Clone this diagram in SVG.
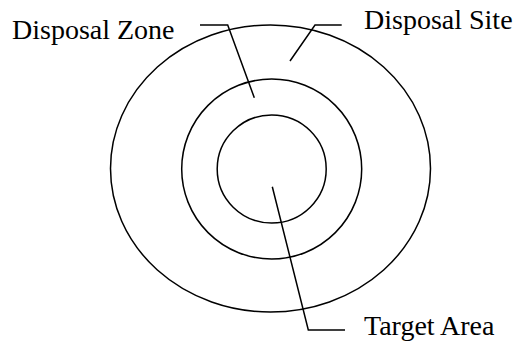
<svg xmlns="http://www.w3.org/2000/svg" width="521" height="341" viewBox="0 0 521 341">
<rect width="521" height="341" fill="#fff"/>
<g fill="none" stroke="#000" stroke-width="1.5">
<g id="disposal-site">
<ellipse cx="270.5" cy="168.5" rx="160" ry="143.5"/>
</g>
<g id="disposal-zone">
<ellipse cx="271.7" cy="169" rx="90" ry="90"/>
</g>
<g id="target-area">
<ellipse cx="271.7" cy="169" rx="54.5" ry="54"/>
</g>
<g id="connectors">
<polyline points="200,25 227.7,25 254.3,97.7"/>
<polyline points="290,61 315,25 341.7,25"/>
<polyline points="272.3,186.7 308.3,330 345,330"/>
</g>
</g>
<text x="12" y="39" font-family="Times New Roman" font-size="28" style="font-family:'Liberation Serif','Times New Roman',serif">Disposal Zone</text>
<text x="364" y="29.3" font-family="Times New Roman" font-size="28" style="font-family:'Liberation Serif','Times New Roman',serif">Disposal Site</text>
<text x="364" y="335" font-family="Times New Roman" font-size="28" style="font-family:'Liberation Serif','Times New Roman',serif">Target Area</text>
</svg>
